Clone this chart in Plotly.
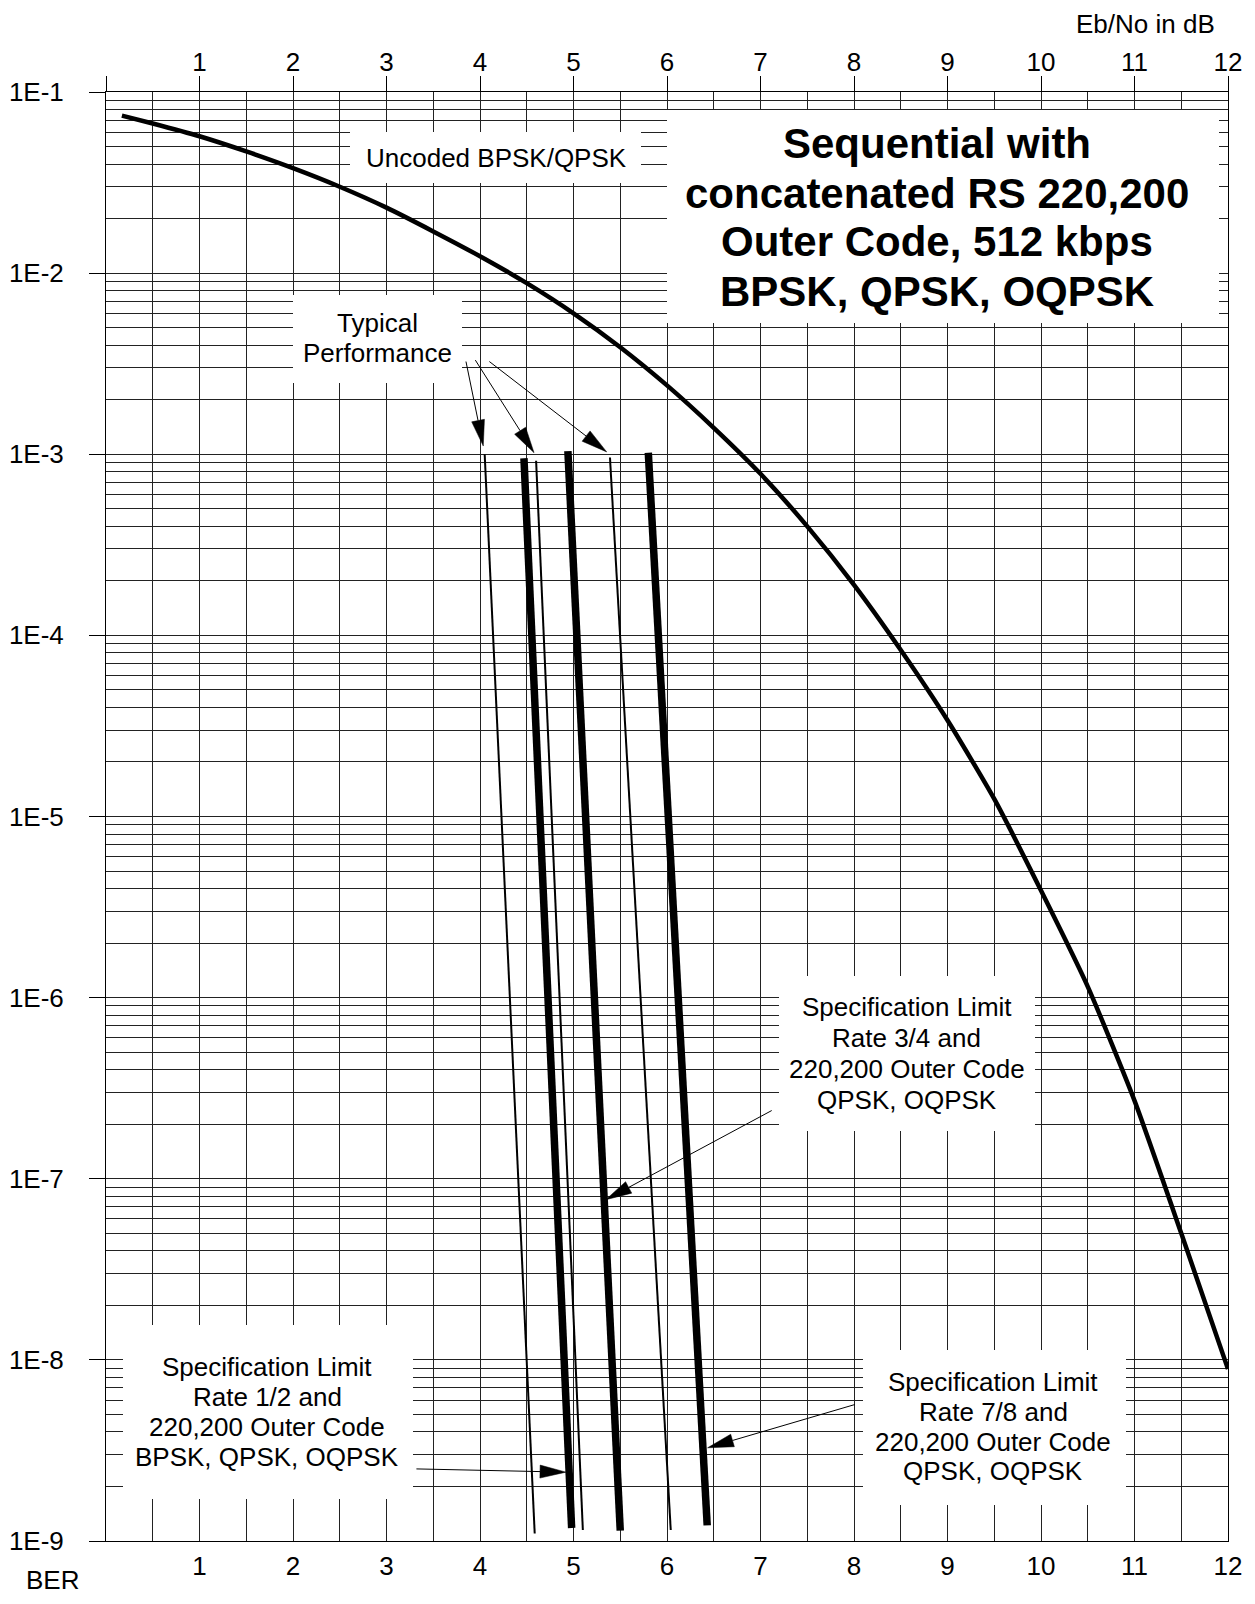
import math
import plotly.graph_objects as go

# ---------------- data ----------------
uncoded_ebno = [0.17, 0.5, 1.0, 1.5, 2.0, 2.5, 3.0, 3.5, 4.0, 4.5, 5.0, 5.5, 6.0,
                6.5, 7.0, 7.5, 8.0, 8.5, 9.0, 9.5, 10.0, 10.5, 11.0, 11.5, 12.0]
uncoded_ber = [0.074, 0.067, 0.057, 0.047, 0.038, 0.030, 0.023, 0.017, 0.0124,
               0.0088, 0.0060, 0.0039, 0.0024, 0.0014, 0.00078, 0.00040, 0.00019,
               8.3e-5, 3.4e-5, 1.25e-5, 3.9e-6, 1.15e-6, 2.7e-7, 5.0e-8, 8.9e-9]

coded_names = ["Typical rate 1/2", "Spec limit rate 1/2", "Typical rate 3/4",
               "Spec limit rate 3/4", "Typical rate 7/8", "Spec limit rate 7/8"]
coded_ebno_top = [4.05, 4.47, 4.60, 4.94, 5.39, 5.80]
coded_ber_top = [1.0e-3, 9.5e-4, 9.2e-4, 1.04e-3, 9.6e-4, 1.02e-3]
coded_ebno_bottom = [4.585, 4.98, 5.10, 5.50, 6.04, 6.43]
coded_ber_bottom = [1.1e-9, 1.18e-9, 1.15e-9, 1.14e-9, 1.15e-9, 1.22e-9]
coded_is_spec = [False, True, False, True, False, True]

# arrows: tail -> tip (Eb/No dB, BER)
arrow_tail_ebno = [3.85, 3.95, 4.10, 3.32, 7.12, 8.01]
arrow_tail_ber = [3.25e-3, 3.31e-3, 3.25e-3, 2.5e-9, 2.38e-7, 5.67e-9]
arrow_tip_ebno = [4.035, 4.578, 5.355, 4.92, 5.345, 6.434]
arrow_tip_ber = [1.11e-3, 1.02e-3, 1.03e-3, 2.4e-9, 7.66e-8, 3.27e-9]

ytick_vals = [1e-1, 1e-2, 1e-3, 1e-4, 1e-5, 1e-6, 1e-7, 1e-8, 1e-9]
ytick_text = ["1E-1", "1E-2", "1E-3", "1E-4", "1E-5", "1E-6", "1E-7", "1E-8", "1E-9"]
xtick_vals = [1, 2, 3, 4, 5, 6, 7, 8, 9, 10, 11, 12]
xtick_text = ["1", "2", "3", "4", "5", "6", "7", "8", "9", "10", "11", "12"]

title_lines = ["Sequential with", "concatenated RS 220,200",
               "Outer Code, 512 kbps", "BPSK, QPSK, OQPSK"]
typical_lines = ["Typical", "Performance"]
spec12_lines = ["Specification Limit", "Rate 1/2 and", "220,200 Outer Code", "BPSK, QPSK, OQPSK"]
spec34_lines = ["Specification Limit", "Rate 3/4 and", "220,200 Outer Code", "QPSK, OQPSK"]
spec78_lines = ["Specification Limit", "Rate 7/8 and", "220,200 Outer Code", "QPSK, OQPSK"]

# ---------------- layout geometry ----------------
OFF = 8                      # default page body margin
W, H = 1255 - 2 * OFF, 1604 - 2 * OFF
L, R, T, B = 98, 19, 84, 55
PW, PH = W - L - R, H - T - B
XMIN, XMAX = 0, 12
LMIN, LMAX = -9, -1
SX = PW / (XMAX - XMIN)
SY = PH / (LMAX - LMIN)
FONT = "Liberation Sans, Arial, sans-serif"
GRID = "#222222"
INK = "black"


def px(X):
    """page pixel x -> paper"""
    return (X - OFF - L) / PW


def py(Y):
    """page pixel y -> paper"""
    return (H - B - (Y - OFF)) / PH


fig = go.Figure()

# coded performance lines
for name, x0, y0, x1, y1, spec in zip(coded_names, coded_ebno_top, coded_ber_top,
                                       coded_ebno_bottom, coded_ber_bottom, coded_is_spec):
    fig.add_trace(go.Scatter(x=[x0, x1], y=[y0, y1], mode="lines", name=name,
                             line=dict(color=INK, width=7.5 if spec else 2)))

# arrows (shaft + filled head computed in pixel space)
HEAD_LEN, HEAD_HALF = 26, 6.5
for xt, bt, xh, bh in zip(arrow_tail_ebno, arrow_tail_ber, arrow_tip_ebno, arrow_tip_ber):
    lt, lh = math.log10(bt), math.log10(bh)
    dx, dy = (xh - xt) * SX, (lh - lt) * SY
    n = math.hypot(dx, dy)
    ux, uy = dx / n, dy / n
    bx, by = xh * SX - ux * HEAD_LEN, lh * SY - uy * HEAD_LEN
    c1 = (bx - uy * HEAD_HALF, by + ux * HEAD_HALF)
    c2 = (bx + uy * HEAD_HALF, by - ux * HEAD_HALF)
    fig.add_trace(go.Scatter(x=[xt, bx / SX], y=[bt, 10 ** (by / SY)], mode="lines",
                             line=dict(color=INK, width=1), hoverinfo="skip"))
    fig.add_trace(go.Scatter(x=[xh, c1[0] / SX, c2[0] / SX, xh],
                             y=[bh, 10 ** (c1[1] / SY), 10 ** (c2[1] / SY), bh],
                             mode="lines", fill="toself", fillcolor=INK,
                             line=dict(color=INK, width=0.5), hoverinfo="skip"))

# uncoded curve (on the top axis, same scale)
fig.add_trace(go.Scatter(x=uncoded_ebno, y=uncoded_ber, mode="lines", name="Uncoded BPSK/QPSK",
                         xaxis="x2", line=dict(color=INK, width=4.5, shape="spline", smoothing=0.6)))

# white boxes hiding the grid behind the labels
boxes = [(350, 132, 641, 183), (293, 295, 462, 383), (667, 110, 1219, 323),
         (779, 976, 1035, 1131), (123, 1325, 413, 1499), (863, 1350, 1126, 1505)]
for x0, y0, x1, y1 in boxes:
    fig.add_shape(type="rect", xref="paper", yref="paper", x0=px(x0), x1=px(x1),
                  y0=py(y1), y1=py(y0), fillcolor="white", line=dict(width=0), layer="above")


def text_block(lines, cx, ys, size=26, bold=False):
    for t, y in zip(lines, ys):
        fig.add_annotation(text=t, x=px(cx), y=py(y), xref="paper", yref="paper",
                           showarrow=False, xanchor="center", yanchor="middle", borderpad=0,
                           font=dict(family=FONT, size=size, color=INK,
                                     weight="bold" if bold else "normal"))


text_block(["Uncoded BPSK/QPSK"], 496, [157.5])
text_block(typical_lines, 377, [323.3, 353.3])
text_block(title_lines, 937, [143.3, 193.3, 241.7, 291.7], size=42, bold=True)
text_block(spec34_lines, 906.5, [1006.7, 1038, 1069, 1100])
text_block(spec12_lines, 267, [1366.7, 1396.7, 1426.7, 1456.7])
text_block(spec78_lines, 993, [1381.7, 1411.7, 1441.7, 1470.5])
text_block(["Eb/No in dB"], 1145, [24])
text_block(["BER"], 52.5, [1580])

minor_y = [m * 10 ** e for e in range(-9, -1) for m in range(2, 10)]

fig.update_layout(
    width=W, height=H, autosize=False,
    margin=dict(l=L, r=R, t=T, b=B, pad=0, autoexpand=False),
    paper_bgcolor="white", plot_bgcolor="white",
    showlegend=False,
    font=dict(family=FONT, size=26, color=INK),
    xaxis=dict(range=[XMIN, XMAX], tickmode="array", tickvals=xtick_vals, ticktext=xtick_text,
               ticks="", showgrid=True, gridcolor=GRID, gridwidth=1,
               minor=dict(tickmode="linear", tick0=0.5, dtick=1, showgrid=True,
                          gridcolor=GRID, gridwidth=1, ticks=""),
               showline=True, mirror=True, linecolor=INK, linewidth=1, automargin=False,
               zeroline=False, ticklabelstandoff=2, fixedrange=True),
    xaxis2=dict(range=[XMIN, XMAX], overlaying="x", side="top", tickmode="array",
                tickvals=[0] + xtick_vals, ticktext=[""] + xtick_text,
                ticks="outside", ticklen=15, tickwidth=1, tickcolor=INK, automargin=False,
                showgrid=False, showline=False, zeroline=False, fixedrange=True,
                ticklabelstandoff=-5),
    yaxis=dict(type="log", range=[LMIN, LMAX], tickmode="array", tickvals=ytick_vals,
               ticktext=ytick_text, ticks="outside", ticklen=16, tickwidth=1, tickcolor=INK,
               showgrid=True, gridcolor=GRID, gridwidth=1, automargin=False,
               minor=dict(tickmode="array", tickvals=minor_y, showgrid=True,
                          gridcolor=GRID, gridwidth=1, ticks=""),
               showline=True, mirror=True, linecolor=INK, linewidth=1,
               zeroline=False, ticklabelstandoff=20, fixedrange=True),
)

fig.write_html("out.html")
